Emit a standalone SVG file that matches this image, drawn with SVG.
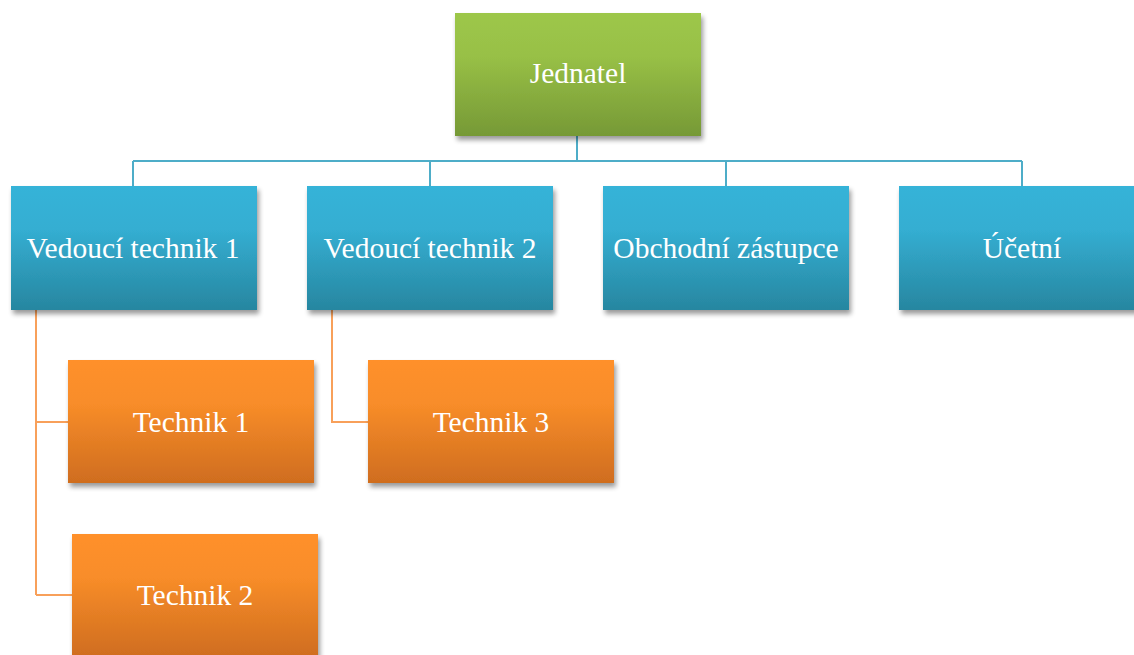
<svg xmlns="http://www.w3.org/2000/svg" width="1134" height="655" viewBox="0 0 1134 655">
<style>
.lbl{font-family:"Liberation Serif","Times New Roman",serif;font-size:29.5px;fill:#ffffff;text-anchor:middle}
.blue{fill:url(#gBlue);filter:url(#sh)}
.green{fill:url(#gGreen);filter:url(#sh)}
.orange{fill:url(#gOrange);filter:url(#sh)}
.cb{stroke:#4EADC8;stroke-width:2;fill:none}
.co{stroke:#F8A05A;stroke-width:2;fill:none}
</style>
<defs>
<linearGradient id="gBlue" x1="0" y1="0" x2="0" y2="1">
<stop offset="0" stop-color="#34B3D8"/>
<stop offset="0.35" stop-color="#34AED2"/>
<stop offset="1" stop-color="#2786A0"/>
</linearGradient>
<linearGradient id="gGreen" x1="0" y1="0" x2="0" y2="1">
<stop offset="0" stop-color="#9DC74A"/>
<stop offset="0.35" stop-color="#98C046"/>
<stop offset="1" stop-color="#769936"/>
</linearGradient>
<linearGradient id="gOrange" x1="0" y1="0" x2="0" y2="1">
<stop offset="0" stop-color="#FF9029"/>
<stop offset="0.35" stop-color="#F88D29"/>
<stop offset="1" stop-color="#CF6D1F"/>
</linearGradient>
<filter id="sh" x="-5%" y="-5%" width="115%" height="125%">
<feGaussianBlur in="SourceAlpha" stdDeviation="2.5"/>
<feOffset dx="2" dy="4" result="b"/>
<feComponentTransfer><feFuncA type="linear" slope="0.4"/></feComponentTransfer>
<feMerge><feMergeNode/><feMergeNode in="SourceGraphic"/></feMerge>
</filter>
</defs>
<rect width="1134" height="655" fill="#ffffff"/>
<g id="connectors">
<path class="cb" d="M577 136 V161 M133 161 H1022 M133 161 V186 M430 161 V186 M726 161 V186 M1022 161 V186"/>
<path class="co" d="M36 310 V595 M36 422 H68 M36 595 H72 M332 310 V422 H368"/>
</g>
<g id="jednatel"><rect class="green" x="455" y="13" width="246" height="123"/><text class="lbl" x="578" y="83">Jednatel</text></g>
<g id="vedouci1"><rect class="blue" x="11" y="186" width="246" height="124"/><text class="lbl" x="133" y="258">Vedoucí technik 1</text></g>
<g id="vedouci2"><rect class="blue" x="307" y="186" width="246" height="124"/><text class="lbl" x="430" y="258">Vedoucí technik 2</text></g>
<g id="obchodni"><rect class="blue" x="603" y="186" width="246" height="124"/><text class="lbl" x="726" y="258">Obchodní zástupce</text></g>
<g id="ucetni"><rect class="blue" x="899" y="186" width="246" height="124"/><text class="lbl" x="1022" y="258">Účetní</text></g>
<g id="technik1"><rect class="orange" x="68" y="360" width="246" height="123"/><text class="lbl" x="191" y="432">Technik 1</text></g>
<g id="technik3"><rect class="orange" x="368" y="360" width="246" height="123"/><text class="lbl" x="491" y="432">Technik 3</text></g>
<g id="technik2"><rect class="orange" x="72" y="534" width="246" height="123"/><text class="lbl" x="195" y="605">Technik 2</text></g>
</svg>
